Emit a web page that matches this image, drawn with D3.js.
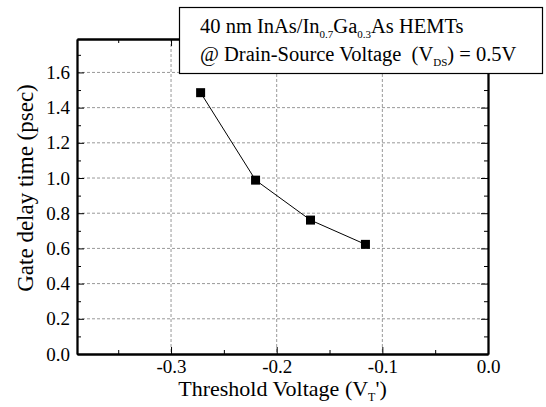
<!DOCTYPE html>
<html>
<head>
<meta charset="utf-8">
<script src="https://cdn.jsdelivr.net/npm/d3@7"></script>
<style>
  body { margin: 0; background: #fff; }
</style>
</head>
<body>
<div id="chart"></div>
<script>
// Data
const thresholdVoltage = [-0.272, -0.22, -0.168, -0.116];
const gateDelay = [1.485, 0.988, 0.761, 0.623];
const xTicks = [-0.3, -0.2, -0.1, 0.0];
const yTicks = [0.0, 0.2, 0.4, 0.6, 0.8, 1.0, 1.2, 1.4, 1.6];

const W = 546, H = 407;
const margin = { top: 39, right: 58, bottom: 53, left: 77 };
const width = W - margin.left - margin.right;
const height = H - margin.top - margin.bottom;
const serif = "Liberation Serif";

const svg = d3.select("#chart").append("svg")
    .attr("width", W)
    .attr("height", H);

const g = svg.append("g")
    .attr("transform", `translate(${margin.left},${margin.top})`);

const x = d3.scaleLinear().domain([-0.389, 0]).range([0, width]);
const y = d3.scaleLinear().domain([0, 1.79]).range([height, 0]);

// grid lines (dashed gray)
g.append("g").selectAll("line")
    .data(yTicks.filter(d => d > 0))
    .enter().append("line")
    .attr("x1", 0).attr("x2", width)
    .attr("y1", d => y(d)).attr("y2", d => y(d))
    .attr("stroke", "#999").attr("stroke-width", 1)
    .attr("stroke-dasharray", "3 2");

g.append("g").selectAll("line")
    .data(xTicks.filter(d => d < 0))
    .enter().append("line")
    .attr("x1", d => x(d)).attr("x2", d => x(d))
    .attr("y1", 0).attr("y2", height)
    .attr("stroke", "#999").attr("stroke-width", 1)
    .attr("stroke-dasharray", "3 2");

// axes with inward ticks on all four sides
const xMinor = d3.range(-0.35, 0, 0.1);
const yMinor = d3.range(0.1, 1.79, 0.2);

const bottomAxis = g.append("g").attr("transform", `translate(0,${height})`)
    .call(d3.axisBottom(x).tickValues(xTicks).tickSizeInner(-7).tickSizeOuter(0)
        .tickPadding(6).tickFormat(d3.format(".1f")));
const leftAxis = g.append("g")
    .call(d3.axisLeft(y).tickValues(yTicks).tickSizeInner(-7).tickSizeOuter(0)
        .tickPadding(7).tickFormat(d3.format(".1f")));
g.append("g")
    .call(d3.axisTop(x).tickValues(xTicks).tickSizeInner(-7).tickSizeOuter(0).tickFormat(""));
g.append("g").attr("transform", `translate(${width},0)`)
    .call(d3.axisRight(y).tickValues(yTicks).tickSizeInner(-7).tickSizeOuter(0).tickFormat(""));

g.append("g").attr("transform", `translate(0,${height})`)
    .call(d3.axisBottom(x).tickValues(xMinor).tickSizeInner(-4).tickSizeOuter(0).tickFormat(""));
g.append("g").call(d3.axisTop(x).tickValues(xMinor).tickSizeInner(-4).tickSizeOuter(0).tickFormat(""));
g.append("g")
    .call(d3.axisLeft(y).tickValues(yMinor).tickSizeInner(-4).tickSizeOuter(0).tickFormat(""));
g.append("g").attr("transform", `translate(${width},0)`)
    .call(d3.axisRight(y).tickValues(yMinor).tickSizeInner(-4).tickSizeOuter(0).tickFormat(""));

g.selectAll(".domain").attr("stroke", "#000").attr("stroke-width", 1.8);
g.selectAll(".tick line").attr("stroke", "#000");
g.selectAll(".tick text").style("font-size", "19px").attr("fill", "#000");
bottomAxis.selectAll(".tick text").text(d => d3.format(".1f")(d).replace("−", "-"));

// line + square markers
const line = d3.line()
    .x((d, i) => x(thresholdVoltage[i]))
    .y(d => y(d));

g.append("path")
    .datum(gateDelay)
    .attr("d", line)
    .attr("fill", "none")
    .attr("stroke", "#000")
    .attr("stroke-width", 1);

const ms = 9;
g.selectAll("rect.pt")
    .data(gateDelay)
    .enter().append("rect")
    .attr("class", "pt")
    .attr("x", (d, i) => x(thresholdVoltage[i]) - ms / 2)
    .attr("y", d => y(d) - ms / 2)
    .attr("width", ms).attr("height", ms)
    .attr("fill", "#000");

// axis titles
const xt = svg.append("text")
    .attr("x", margin.left + width / 2)
    .attr("y", 396)
    .attr("text-anchor", "middle")
    .style("font-size", "22px");
xt.append("tspan").text("Threshold Voltage (V");
xt.append("tspan").attr("dy", 5).style("font-size", "12px").text("T");
xt.append("tspan").attr("dy", -5).text("')");

svg.append("text")
    .attr("transform", `translate(33,188) rotate(-90)`)
    .attr("text-anchor", "middle")
    .style("font-size", "23px")
    .text("Gate delay time (psec)");

// annotation box
svg.append("rect")
    .attr("x", 179.5).attr("y", 7.5)
    .attr("width", 363).attr("height", 66)
    .attr("fill", "#fff")
    .attr("stroke", "#000")
    .attr("stroke-width", 1.2);

const l1 = svg.append("text").attr("x", 200).attr("y", 33).style("font-size", "20.5px");
l1.append("tspan").text("40 nm InAs/In");
l1.append("tspan").attr("dy", 5).style("font-size", "11px").text("0.7");
l1.append("tspan").attr("dy", -5).text("Ga");
l1.append("tspan").attr("dy", 5).style("font-size", "11px").text("0.3");
l1.append("tspan").attr("dy", -5).text("As HEMTs");

const l2 = svg.append("text").attr("x", 200).attr("y", 61).style("font-size", "20.5px");
l2.append("tspan").text("@ Drain-Source Voltage");
l2.append("tspan").attr("dx", 5).text(" (V");
l2.append("tspan").attr("dy", 5).style("font-size", "11px").text("DS");
l2.append("tspan").attr("dy", -5).text(") = 0.5V");

// serif everywhere (inline style so it beats the axis defaults)
svg.selectAll("text").style("font-family", serif).attr("fill", "#000");
</script>
</body>
</html>
